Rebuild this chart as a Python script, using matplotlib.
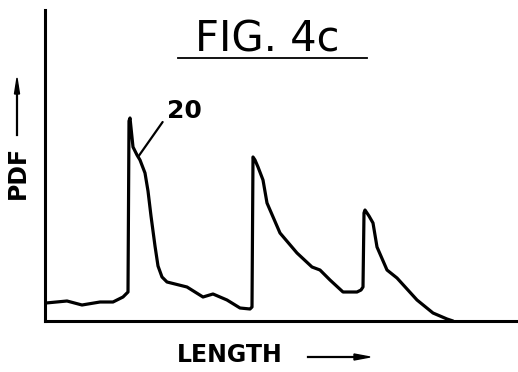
import numpy as np
import matplotlib
matplotlib.use("Agg")
import matplotlib.pyplot as plt
from matplotlib.lines import Line2D

W, H = 518, 372

# curve (length units, pdf units; arbitrary scale)
length = [1, 22, 37, 55, 68, 78, 83, 84, 85, 88, 92, 95, 100, 103, 106, 110, 113, 117, 122,
          142, 158, 168, 182, 195, 205, 207, 208, 210, 213, 218, 222, 235, 252, 267, 275,
          285, 298, 312, 316, 318, 319, 320, 324, 328, 332, 342, 352, 372, 388, 402, 408]
pdf = [18, 20, 16, 19, 19, 24, 29, 200, 203, 174, 166, 161, 148, 130, 105, 75, 55, 44, 39,
       34, 24, 27, 21, 13, 12, 14, 164, 161, 154, 141, 118, 88, 68, 54, 51,
       41, 29, 29, 31, 34, 108, 111, 105, 98, 74, 51, 43, 21, 8, 2, 0]

title = "FIG. 4c"
xlabel = "LENGTH"
ylabel = "PDF"
callout = "20"


def fx(px):
    return px / W


def fy(py):
    return 1 - py / H


fig = plt.figure(figsize=(W / 100, H / 100), dpi=100)
ax = fig.add_axes([fx(45), fy(321), (W - 45) / W, (321 - 10) / H])
ax.plot(length, pdf, color="black", lw=2.3, solid_joinstyle="round", solid_capstyle="round")
ax.set_xlim(0, W - 45)
ax.set_ylim(0, 311)
for s in ["top", "right"]:
    ax.spines[s].set_visible(False)
for s in ["left", "bottom"]:
    ax.spines[s].set_linewidth(2.2)
ax.set_xticks([]); ax.set_yticks([])

# title with underline
fig.text(fx(267), fy(52), title, fontsize=30, ha="center", va="baseline", family="DejaVu Sans")
fig.add_artist(Line2D([fx(178), fx(367)], [fy(58), fy(58)], color="black", lw=1.3))

# axis labels with arrows
fig.text(fx(230), fy(355), xlabel, fontsize=17, fontweight="bold", ha="center", va="center")
fig.add_artist(plt.Line2D([fx(308), fx(362)], [fy(357), fy(357)], color="black", lw=1.6))
fig.patches.append(plt.Polygon([[fx(354), fy(354)], [fx(370), fy(357)], [fx(354), fy(360)]],
                               closed=True, color="black", transform=fig.transFigure, figure=fig))
fig.text(fx(18), fy(172), ylabel, fontsize=17, fontweight="bold", rotation=90, ha="center", va="center")
fig.add_artist(plt.Line2D([fx(17), fx(17)], [fy(135), fy(88)], color="black", lw=1.6))
fig.patches.append(plt.Polygon([[fx(14.5), fy(94)], [fx(17), fy(78)], [fx(19.5), fy(94)]],
                               closed=True, color="black", transform=fig.transFigure, figure=fig))

# callout
ax.annotate(callout, xy=(93, 164), xytext=(122, 210), fontsize=18, fontweight="bold",
            ha="left", va="center",
            arrowprops=dict(arrowstyle="-", color="black", lw=1.6, shrinkA=2, shrinkB=0,
                            relpos=(0, 0.3)))

fig.savefig("out.png", dpi=100)
